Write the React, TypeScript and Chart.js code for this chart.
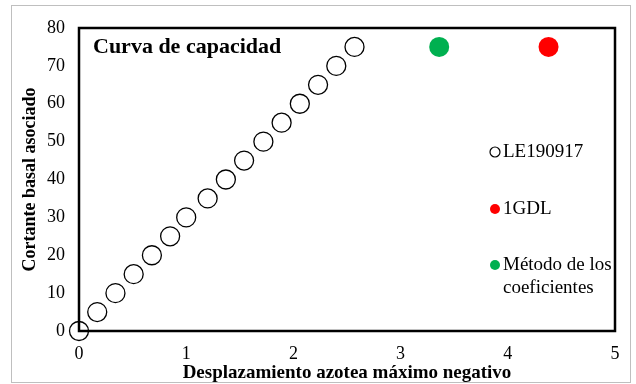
import React, { useEffect, useRef } from "react";
import { Chart, registerables } from "chart.js";

Chart.register(...registerables);

const chartTitle = "Curva de capacidad";
const xAxisTitle = "Desplazamiento azotea máximo negativo";
const yAxisTitle = "Cortante basal asociado";

const leX = [0, 0.17, 0.34, 0.51, 0.68, 0.85, 1.0, 1.2, 1.37, 1.54, 1.72, 1.89, 2.06, 2.23, 2.4, 2.57];
const leY = [0, 5, 10, 15, 20, 25, 30, 35, 40, 45, 50, 55, 60, 65, 70, 75];
const gdlX = [4.38];
const gdlY = [75];
const coefX = [3.36];
const coefY = [75];

const seriesNames = ["LE190917", "1GDL", "Método de los coeficientes"];

const FONT = "'Liberation Serif', 'Times New Roman', serif";

export default function App() {
  const ref = useRef<HTMLCanvasElement | null>(null);
  useEffect(() => {
    document.body.style.margin = "0";
    const ctx = ref.current!.getContext("2d")!;
    const decor = {
      id: "decor",
      beforeDraw(chart: any) {
        const c = chart.ctx;
        c.save();
        c.fillStyle = "#fff";
        c.fillRect(0, 0, chart.width, chart.height);
        c.strokeStyle = "#bfbfbf";
        c.lineWidth = 1;
        c.strokeRect(11.5, 5.5, 619, 377);
        c.restore();
      },
      beforeDatasetsDraw(chart: any) {
        const c = chart.ctx;
        const a = chart.chartArea;
        c.save();
        c.strokeStyle = "#000";
        c.lineWidth = 2.5;
        c.strokeRect(a.left, a.top, a.right - a.left, a.bottom - a.top);
        c.restore();
      },
      afterDatasetsDraw(chart: any) {
        const c = chart.ctx;
        const a = chart.chartArea;
        c.save();
        c.fillStyle = "#000";
        c.font = `bold 22px ${FONT}`;
        c.textBaseline = "middle";
        c.textAlign = "left";
        c.fillText(chartTitle, a.left + 14, a.top + 19);
        // legend
        const lx = a.left + 416;
        const items = [
          { y: a.top + 124, ds: 0, lines: [seriesNames[0]] },
          { y: a.top + 181, ds: 1, lines: [seriesNames[1]] },
          { y: a.top + 237, ds: 2, lines: ["Método de los", "coeficientes"] },
        ];
        c.font = `19px ${FONT}`;
        for (const it of items) {
          const ds = chart.data.datasets[it.ds];
          c.beginPath();
          c.arc(lx, it.y, 5, 0, Math.PI * 2);
          if (it.ds === 0) {
            c.fillStyle = "#fff";
            c.fill();
            c.strokeStyle = "#000";
            c.lineWidth = 1.2;
            c.stroke();
          } else {
            c.fillStyle = ds.backgroundColor;
            c.fill();
          }
          c.fillStyle = "#000";
          it.lines.forEach((ln, i) => c.fillText(ln, lx + 8, it.y + i * 23));
        }
        c.restore();
      },
    };
    const chart = new Chart(ctx, {
      type: "scatter",
      data: {
        datasets: [
          {
            label: seriesNames[0],
            data: leX.map((x, i) => ({ x, y: leY[i] })),
            backgroundColor: "rgba(255,255,255,0)",
            borderColor: "#000",
            borderWidth: 1.3,
            pointRadius: 9.5,
            clip: false,
          },
          {
            label: seriesNames[1],
            data: gdlX.map((x, i) => ({ x, y: gdlY[i] })),
            backgroundColor: "#ff0000",
            borderColor: "#ff0000",
            borderWidth: 0,
            pointRadius: 10,
            clip: false,
          },
          {
            label: seriesNames[2],
            data: coefX.map((x, i) => ({ x, y: coefY[i] })),
            backgroundColor: "#00b050",
            borderColor: "#00b050",
            borderWidth: 0,
            pointRadius: 10,
            clip: false,
          },
        ],
      },
      options: {
        animation: false,
        responsive: false,
        layout: { padding: { left: 20, right: 21, top: 28, bottom: 0 } },
        plugins: { legend: { display: false }, tooltip: { enabled: false } },
        scales: {
          x: {
            type: "linear",
            min: 0,
            max: 5,
            ticks: { stepSize: 1, color: "#000", font: { family: FONT, size: 18 }, padding: 12 },
            grid: { display: false, drawTicks: false },
            border: { display: false },
            title: {
              display: true,
              text: xAxisTitle,
              color: "#000",
              font: { family: FONT, size: 19, weight: "bold" },
              padding: { top: -2, bottom: 0 },
            },
            afterFit: (s: any) => {
              s.height = 53;
            },
          },
          y: {
            type: "linear",
            min: 0,
            max: 80,
            ticks: { stepSize: 10, color: "#000", font: { family: FONT, size: 18 }, padding: 14 },
            grid: { display: false, drawTicks: false },
            border: { display: false },
            title: {
              display: true,
              text: yAxisTitle,
              color: "#000",
              font: { family: FONT, size: 18, weight: "bold" },
              padding: { top: 0, bottom: 0 },
            },
            afterFit: (s: any) => {
              s.width = 59;
            },
          },
        },
      },
      plugins: [decor],
    } as any);
    return () => chart.destroy();
  }, []);
  return <canvas ref={ref} width={636} height={384} style={{ display: "block" }} />;
}
